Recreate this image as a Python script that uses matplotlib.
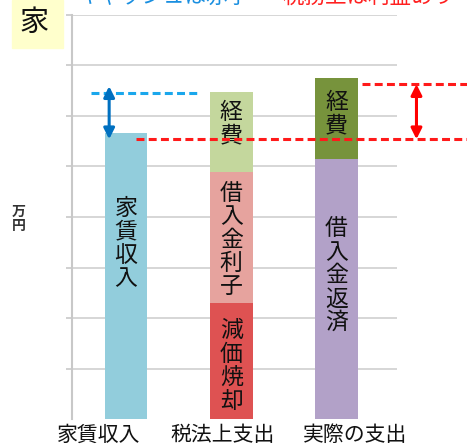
import matplotlib
matplotlib.use("Agg")
import matplotlib.pyplot as plt
from matplotlib.patches import Rectangle

plt.rcParams['font.family'] = ['Noto Sans CJK JP', 'DejaVu Sans']

# ---- data ----
categories = ["家賃収入", "税法上支出", "実際の支出"]
rent = [5.67, 0, 0]
depreciation = [0, 2.30, 0]
interest = [0, 2.585, 0]
loan_repay = [0, 0, 5.14]
expense_tax = [0, 1.595, 0]
expense_real = [0, 0, 1.62]

blue_line_level = 6.45
red_low_level = 5.545
red_high_level = 6.63

fig = plt.figure(figsize=(4.67, 4.48), dpi=100)
W, H = 467, 448

def fx(px):
    return px / W

def fy(py):
    return 1 - py / H

ax = fig.add_axes([fx(72), fy(419), fx(397) - fx(72), (419 - 15) / H])

x = [0, 1, 2]
bw = 0.405
c_rent = "#92CDDC"
c_dep = "#DE5252"
c_int = "#E6A39E"
c_exp1 = "#C4D79D"
c_loan = "#B2A1C8"
c_exp2 = "#77933C"

ax.bar(x[0], rent[0], width=bw, color=c_rent, zorder=3)
ax.bar(x[1], depreciation[1], width=bw, color=c_dep, zorder=3)
ax.bar(x[1], interest[1], bottom=depreciation[1], width=bw, color=c_int, zorder=3)
ax.bar(x[1], expense_tax[1], bottom=depreciation[1] + interest[1], width=bw, color=c_exp1, zorder=3)
ax.bar(x[2], loan_repay[2], width=bw, color=c_loan, zorder=3)
ax.bar(x[2], expense_real[2], bottom=loan_repay[2], width=bw, color=c_exp2, zorder=3)

ax.set_xlim(-0.513, 2.575)
ax.set_ylim(0, 8)
ax.set_yticks(range(1, 9))
ax.set_yticklabels([])
ax.set_xticks([])
ax.tick_params(axis='y', length=4, width=1.2, color="#C8C8C8", direction='out')
ax.grid(axis='y', color="#D0D0D0", linewidth=1.2, zorder=0)
for s in ['top', 'right', 'bottom']:
    ax.spines[s].set_visible(False)
ax.spines['left'].set_color("#C8C8C8")
ax.spines['left'].set_linewidth(1.5)

# vertical labels inside bars
def vtext(xc, yc, s, size=16.5):
    ax.text(xc, yc, "\n".join(s), ha='center', va='center', fontsize=size,
            linespacing=1.02, color="#111111", zorder=5)

vtext(0, 3.47, "家賃収入")
vtext(1, 1.05, "減価焼却")
vtext(1, 3.54, "借入金利子")
vtext(1, 5.84, "経費")
vtext(2, 2.84, "借入金返済")
vtext(2, 6.04, "経費")

# dashed reference lines
dash = (2.6, 1.4)
ax.plot([-0.335, 0.703], [blue_line_level] * 2, color="#1AA7EC", lw=2.2,
        dashes=dash, clip_on=False, zorder=4)
ax.plot([0.095, 3.24], [red_low_level] * 2, color="#FF1A1A", lw=2.2,
        dashes=dash, clip_on=False, zorder=6)
ax.plot([2.24, 3.24], [red_high_level] * 2, color="#FF1A1A", lw=2.2,
        dashes=dash, clip_on=False, zorder=6)

# double arrows
ax.annotate("", xy=(-0.16, 6.59), xytext=(-0.16, 5.54),
            arrowprops=dict(arrowstyle='<|-|>', color="#0070C0", lw=2.2,
                            mutation_scale=16, shrinkA=0, shrinkB=0),
            annotation_clip=False, zorder=7)
ax.annotate("", xy=(2.76, 6.63), xytext=(2.76, 5.54),
            arrowprops=dict(arrowstyle='<|-|>', color="#FF0000", lw=2.2,
                            mutation_scale=16, shrinkA=0, shrinkB=0),
            annotation_clip=False, zorder=7)

# category labels (below)
label_x = [-0.257, 0.917, 2.176]
for lx, lab in zip(label_x, categories):
    ax.text(lx, -0.10, lab, ha='center', va='top',
            fontsize=15, color="#111111", clip_on=False)

# unit label
fig.text(fx(19), fy(219), "万\n円", ha='center', va='center', fontsize=10,
         fontweight='bold', linespacing=0.95, color="#333333")

# top-left box
fig.patches.append(Rectangle((fx(12), fy(48)), fx(63) - fx(12), 48 / H,
                             transform=fig.transFigure, color="#FFFFCC", zorder=0))
fig.text(fx(34), fy(23), "家", ha='center', va='center', fontsize=21, color="#111111")

# title text at the top edge (cut off in the reference as well)
fig.text(fx(78), fy(2.5), "キャッシュは赤字", ha='left', va='baseline', fontsize=15.5,
         color="#1A8FE0")
fig.text(fx(282), fy(2.5), "税務上は利益あり", ha='left', va='baseline', fontsize=15.5,
         color="#FF2020")

fig.savefig("out.png", dpi=100)
